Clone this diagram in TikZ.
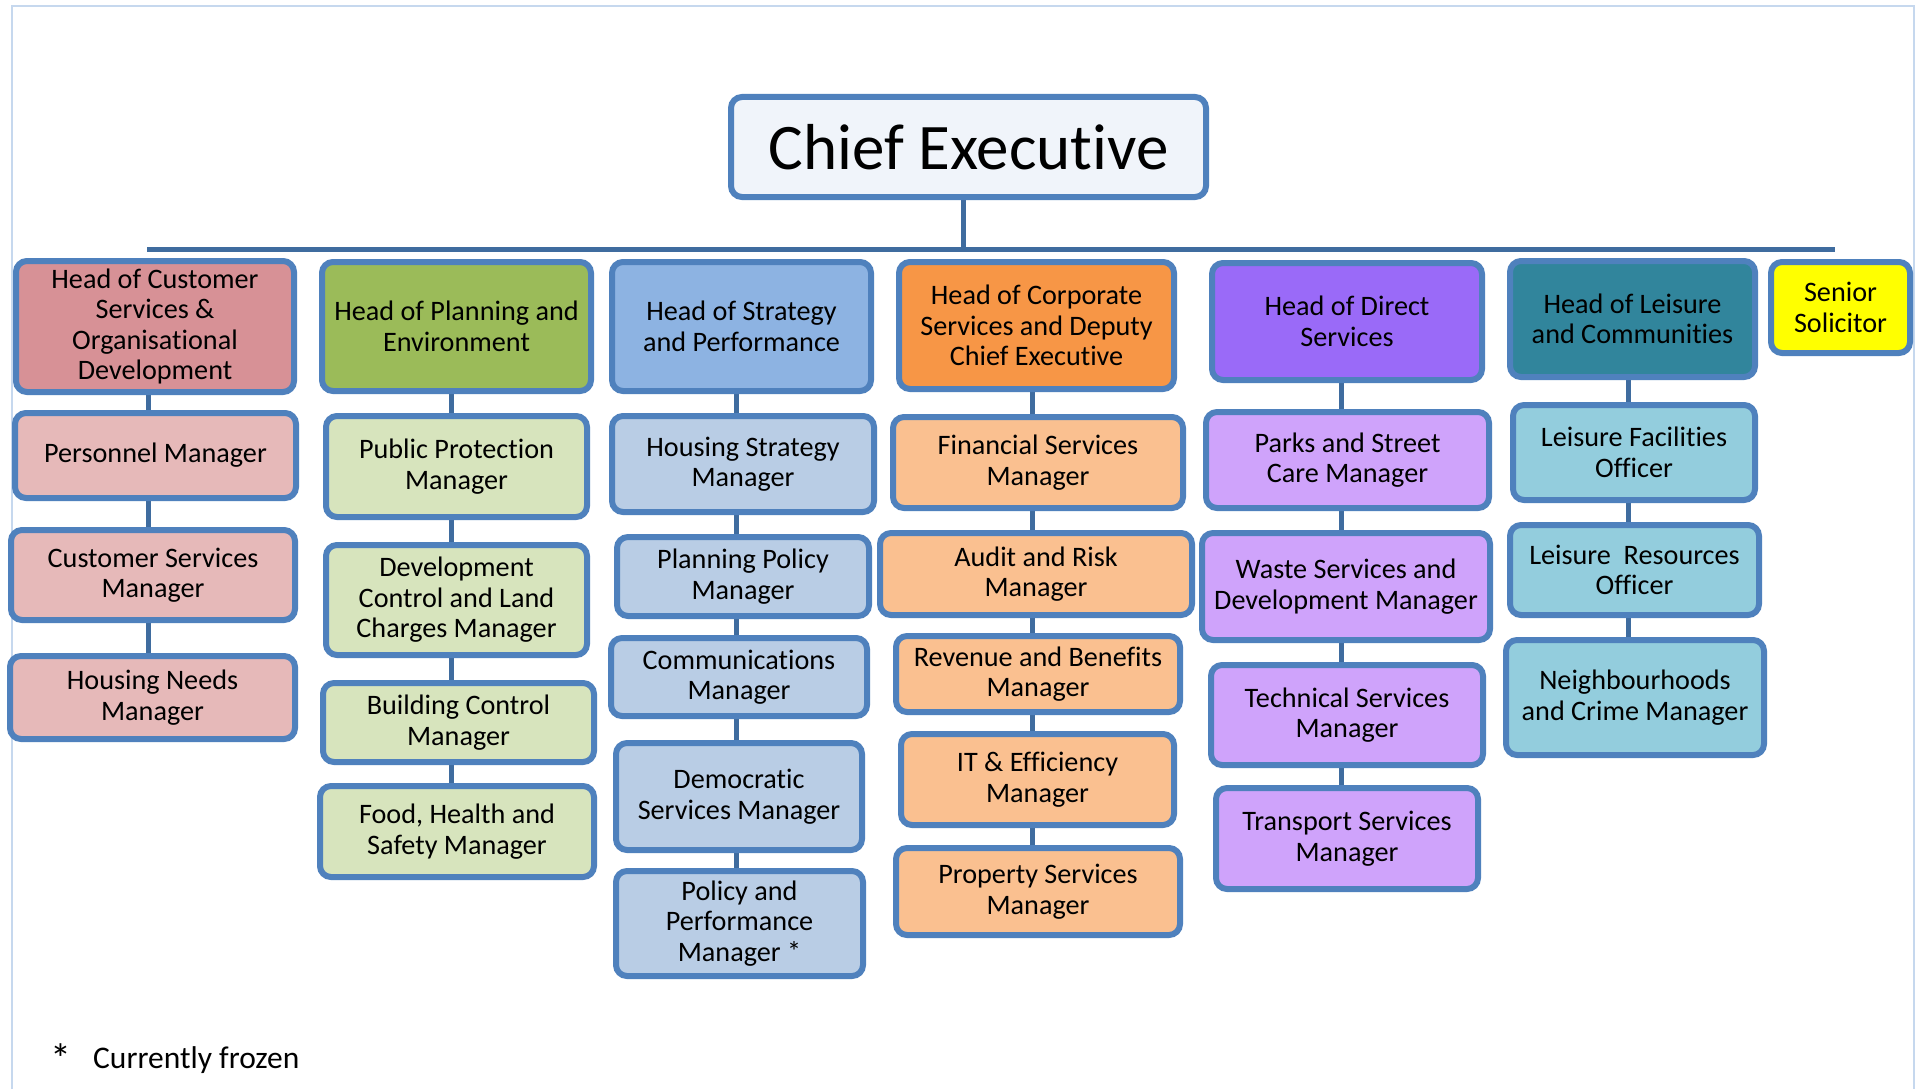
\documentclass[tikz,border=0pt]{standalone}
\usepackage{fontspec}
\setmainfont{Carlito}[Ligatures=NoCommon]
\usetikzlibrary{backgrounds}
\definecolor{bord}{HTML}{4F81BD}
\definecolor{connc}{HTML}{3F6C9F}
\definecolor{framec}{HTML}{C6D8EE}
\definecolor{chieff}{HTML}{F0F4FA}
\definecolor{pinkH}{HTML}{D79196}
\definecolor{pinkS}{HTML}{E6B9B9}
\definecolor{greenH}{HTML}{9BBB59}
\definecolor{greenS}{HTML}{D7E4BD}
\definecolor{blueH}{HTML}{8DB3E2}
\definecolor{blueS}{HTML}{B9CDE5}
\definecolor{orangeH}{HTML}{F79646}
\definecolor{orangeS}{HTML}{FAC090}
\definecolor{purpleH}{HTML}{9A6AF8}
\definecolor{purpleS}{HTML}{CFA3FB}
\definecolor{tealH}{HTML}{31859C}
\definecolor{tealS}{HTML}{93CDDD}
\definecolor{yellowH}{HTML}{FFFF00}
\newcommand\bx[7]{%
  \pgfmathsetmacro\bxcx{(#2+#3)/2}%
  \pgfmathsetmacro\bxcy{(#4+#5)/2}%
  \pgfmathsetmacro\bxw{#3-#2-6}%
  \pgfmathsetmacro\bxh{#5-#4-6}%
  \node[box,fill=#6,minimum width=\bxw pt,minimum height=\bxh pt] (#1) at (\bxcx,\bxcy) {#7};}
\begin{document}
\begin{tikzpicture}[x=1pt,y=-1pt,
  box/.style={draw=bord,line width=6pt,rounded corners=11pt,align=center,inner sep=0pt,
    font=\fontsize{28.2}{30.5}\selectfont,text=black},
  conn/.style={draw=connc,line width=5pt}]
\useasboundingbox (0,0) rectangle (1918,1089);
\draw[framec,line width=1.5pt] (12,1089) -- (12,6) -- (1914,6) -- (1914,1089);

% Chief
\node[box,fill=chieff,minimum width=475pt,minimum height=100pt,font=\fontsize{65}{70}\selectfont] (chief) at (968.5,147) {Chief Executive};

% Heads
\bx{h1}{13}{297}{258}{395}{pinkH}{Head of Customer\\Services \&\\Organisational\\Development}
\bx{h2}{319}{594}{259}{394}{greenH}{Head of Planning and\\Environment}
\bx{h3}{609}{874}{259}{394}{blueH}{Head of Strategy\\and Performance}
\bx{h4}{896}{1177}{259}{392}{orangeH}{Head of Corporate\\Services and Deputy\\Chief Executive}
\bx{h5}{1209}{1485}{260}{383}{purpleH}{Head of Direct\\Services}
\bx{h6}{1507}{1758}{258}{380}{tealH}{Head of Leisure\\and Communities}
\bx{h7}{1768}{1913}{259}{356}{yellowH}{Senior\\Solicitor}

% Column 1
\bx{c11}{12}{299}{410}{501}{pinkS}{Personnel Manager}
\bx{c12}{8}{298}{527}{623}{pinkS}{Customer Services\\Manager}
\bx{c13}{7}{298}{653}{742}{pinkS}{Housing Needs\\Manager}
% Column 2
\bx{c21}{323}{590}{413}{520}{greenS}{Public Protection\\Manager}
\bx{c22}{323}{590}{542}{658}{greenS}{Development\\Control and Land\\Charges Manager}
\bx{c23}{320}{597}{680}{765}{greenS}{Building Control\\Manager}
\bx{c24}{317}{597}{783}{880}{greenS}{Food, Health and\\Safety Manager}
% Column 3
\bx{c31}{609}{877}{413}{515}{blueS}{Housing Strategy\\Manager}
\bx{c32}{614}{872}{534}{619}{blueS}{Planning Policy\\Manager}
\bx{c33}{608}{870}{635}{719}{blueS}{Communications\\Manager}
\bx{c34}{613}{865}{740}{853}{blueS}{Democratic\\Services Manager}
\bx{c35}{613}{866}{868}{979}{blueS}{Policy and\\Performance\\Manager *}
% Column 4
\bx{c41}{890}{1186}{414}{511}{orangeS}{Financial Services\\Manager}
\bx{c42}{877}{1195}{530}{618}{orangeS}{Audit and Risk\\Manager}
\bx{c43}{893}{1183}{633}{715}{orangeS}{Revenue and Benefits\\Manager}
\bx{c44}{898}{1177}{731}{828}{orangeS}{IT \& Efficiency\\Manager}
\bx{c45}{893}{1183}{845}{938}{orangeS}{Property Services\\Manager}
% Column 5
\bx{c51}{1203}{1492}{409}{511}{purpleS}{Parks and Street\\Care Manager}
\bx{c52}{1199}{1493}{530}{643}{purpleS}{Waste Services and\\Development Manager}
\bx{c53}{1208}{1486}{662}{768}{purpleS}{Technical Services\\Manager}
\bx{c54}{1213}{1481}{785}{892}{purpleS}{Transport Services\\Manager}
% Column 6
\bx{c61}{1510}{1758}{402}{503}{tealS}{Leisure Facilities\\Officer}
\bx{c62}{1507}{1762}{522}{618}{tealS}{Leisure\ \ Resources\\Officer}
\bx{c63}{1503}{1767}{637}{758}{tealS}{Neighbourhoods\\and Crime Manager}

% Footnote
\node[anchor=base,inner sep=0pt,font=\fontsize{42}{42}\selectfont] (ast) at (61,1073) {*};
\node[anchor=base west,inner sep=0pt,font=\fontsize{31.5}{34}\selectfont] (fn) at (93,1068) {Currently frozen};

% Connectors
\coordinate (k0) at (963,0);
\coordinate (k1) at (148,0);
\coordinate (k2) at (451,0);
\coordinate (k3) at (736,0);
\coordinate (k4) at (1032,0);
\coordinate (k5) at (1341,0);
\coordinate (k6) at (1628,0);
\coordinate (barL) at (147,249);
\coordinate (barR) at (1835,249);
\begin{pgfonlayer}{background}
\fill[white] (0,0) rectangle (1918,1089);
\draw[conn] (barL) -- (barR);
\draw[conn] (chief.south -| k0) -- (barL -| k0);
\draw[conn] (h1.south -| k1) -- (c11.north -| k1);
\draw[conn] (c11.south -| k1) -- (c12.north -| k1);
\draw[conn] (c12.south -| k1) -- (c13.north -| k1);
\draw[conn] (h2.south -| k2) -- (c21.north -| k2);
\draw[conn] (c21.south -| k2) -- (c22.north -| k2);
\draw[conn] (c22.south -| k2) -- (c23.north -| k2);
\draw[conn] (c23.south -| k2) -- (c24.north -| k2);
\draw[conn] (h3.south -| k3) -- (c31.north -| k3);
\draw[conn] (c31.south -| k3) -- (c32.north -| k3);
\draw[conn] (c32.south -| k3) -- (c33.north -| k3);
\draw[conn] (c33.south -| k3) -- (c34.north -| k3);
\draw[conn] (c34.south -| k3) -- (c35.north -| k3);
\draw[conn] (h4.south -| k4) -- (c41.north -| k4);
\draw[conn] (c41.south -| k4) -- (c42.north -| k4);
\draw[conn] (c42.south -| k4) -- (c43.north -| k4);
\draw[conn] (c43.south -| k4) -- (c44.north -| k4);
\draw[conn] (c44.south -| k4) -- (c45.north -| k4);
\draw[conn] (h5.south -| k5) -- (c51.north -| k5);
\draw[conn] (c51.south -| k5) -- (c52.north -| k5);
\draw[conn] (c52.south -| k5) -- (c53.north -| k5);
\draw[conn] (c53.south -| k5) -- (c54.north -| k5);
\draw[conn] (h6.south -| k6) -- (c61.north -| k6);
\draw[conn] (c61.south -| k6) -- (c62.north -| k6);
\draw[conn] (c62.south -| k6) -- (c63.north -| k6);
\end{pgfonlayer}
\end{tikzpicture}
\end{document}
